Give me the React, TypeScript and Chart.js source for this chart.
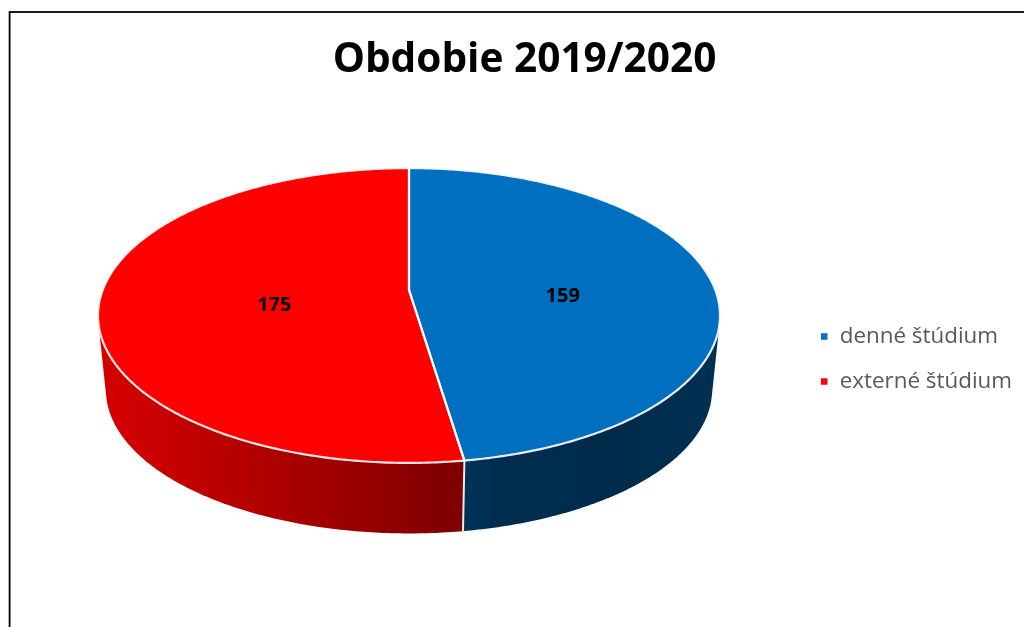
import React, { useEffect, useRef } from "react";
import { Chart, registerables } from "chart.js";

Chart.register(...registerables);

const titleText = "Obdobie 2019/2020";
const categories = ["denné štúdium", "externé štúdium"];
const values = [159, 175];
const sliceColors = ["#006FC0", "#FF0000"];
const wallStops = [
  ["#003a62", "#002c4e", "#002b4b", "#003053"],
  ["#d60000", "#ba0000", "#9c0000", "#7c0000"],
];

const TOP = { x: 409, y: 290, r: 306.3, s: 143, k: 0.173 };
const BOTTOM = { x: 409, y: 365, r: 298.5, s: 139.3, k: 0.173 };

type Geo = typeof TOP;
const project = (g: Geo, theta: number, f = 1) => {
  const u = Math.sin(theta) * f;
  const v = -Math.cos(theta) * f;
  const w = 1 - g.k * v;
  return { x: g.x + (g.r * u) / w, y: g.y + (g.s * v) / w };
};

const arcPoints = (g: Geo, a: number, b: number) => {
  const n = Math.max(8, Math.ceil(Math.abs(b - a) * 90));
  const pts = [];
  for (let i = 0; i <= n; i++) pts.push(project(g, a + ((b - a) * i) / n));
  return pts;
};

const hull = (input: { x: number; y: number }[]) => {
  const p = [...input].sort((a, b) => a.x - b.x || a.y - b.y);
  const cross = (o: any, a: any, b: any) =>
    (a.x - o.x) * (b.y - o.y) - (a.y - o.y) * (b.x - o.x);
  const lower: any[] = [];
  for (const q of p) {
    while (lower.length > 1 && cross(lower[lower.length - 2], lower[lower.length - 1], q) <= 0) lower.pop();
    lower.push(q);
  }
  const upper: any[] = [];
  for (const q of [...p].reverse()) {
    while (upper.length > 1 && cross(upper[upper.length - 2], upper[upper.length - 1], q) <= 0) upper.pop();
    upper.push(q);
  }
  return lower.slice(0, -1).concat(upper.slice(0, -1));
};

const tracePoly = (ctx: CanvasRenderingContext2D, pts: { x: number; y: number }[]) => {
  pts.forEach((p, i) => (i ? ctx.lineTo(p.x, p.y) : ctx.moveTo(p.x, p.y)));
};

const tracePoly2 = (ctx: CanvasRenderingContext2D, pts: { x: number; y: number }[]) => {
  pts.forEach((p) => ctx.lineTo(p.x, p.y));
};

const labelShift = [
  { dx: 2, dy: 12 },
  { dx: 19, dy: 10 },
];

const pie3d = {
  id: "pie3d",
  beforeDraw(chart: any) {
    const { ctx } = chart;
    ctx.save();
    ctx.strokeStyle = "#000000";
    ctx.lineWidth = 1.8;
    ctx.strokeRect(9.6, 12, 1100, 800);
    ctx.restore();
  },
  beforeDatasetsDraw(chart: any) {
    const { ctx } = chart;
    const arcs = chart.getDatasetMeta(0).data;
    const angles = arcs.map((arc: any) => ({
      a: arc.startAngle + Math.PI / 2,
      b: arc.endAngle + Math.PI / 2,
    }));
    ctx.save();
    angles.forEach((_: any, i: number) => {
      const { a, b } = angles[i];
      const top = arcPoints(TOP, a, b);
      const low = arcPoints(BOTTOM, a, b);
      const poly = hull(top.concat(low));
      const xs = top.concat(low).map((p) => p.x);
      const g = ctx.createLinearGradient(Math.min(...xs), 0, Math.max(...xs), 0);
      wallStops[i].forEach((c, j) => g.addColorStop(j / (wallStops[i].length - 1), c));
      ctx.beginPath();
      tracePoly(ctx, poly);
      ctx.closePath();
      ctx.fillStyle = g;
      ctx.fill();
    });
    // seams on the wall
    ctx.strokeStyle = "rgba(255,255,255,0.9)";
    ctx.lineWidth = 2;
    angles.forEach(({ b }: any) => {
      const p = project(TOP, b);
      const q = project(BOTTOM, b);
      if (p.y > 400) {
        ctx.beginPath();
        ctx.moveTo(p.x, p.y);
        ctx.lineTo(q.x, q.y);
        ctx.stroke();
      }
    });
    // top faces
    angles.forEach(({ a, b }: any, i: number) => {
      ctx.beginPath();
      ctx.moveTo(TOP.x, TOP.y);
      tracePoly2(ctx, arcPoints(TOP, a, b));
      ctx.closePath();
      ctx.fillStyle = sliceColors[i];
      ctx.fill();
    });
    angles.forEach(({ a, b }: any) => {
      ctx.beginPath();
      ctx.moveTo(TOP.x, TOP.y);
      tracePoly2(ctx, arcPoints(TOP, a, b));
      ctx.closePath();
      ctx.strokeStyle = "rgba(255,255,255,0.9)";
      ctx.lineWidth = 2.2;
      ctx.lineJoin = "round";
      ctx.stroke();
    });
    // value labels
    ctx.fillStyle = "#000000";
    ctx.font = "bold 20px 'Open Sans'";
    ctx.textAlign = "center";
    ctx.textBaseline = "middle";
    angles.forEach(({ a, b }: any, i: number) => {
      const p = project(TOP, (a + b) / 2, 0.5);
      ctx.fillText(String(values[i]), p.x + labelShift[i].dx, p.y + labelShift[i].dy);
    });
    ctx.restore();
    return false;
  },
};

export default function App() {
  const ref = useRef<HTMLCanvasElement>(null);
  useEffect(() => {
    document.body.style.margin = "0";
    document.body.style.background = "#ffffff";
    const chart = new Chart(ref.current!, {
      type: "pie",
      data: {
        labels: categories,
        datasets: [{ data: values, backgroundColor: sliceColors, borderColor: "#ffffff" }],
      },
      plugins: [pie3d],
      options: {
        responsive: false,
        animation: false,
        layout: { padding: { left: 27, top: 36, bottom: -55, right: 2 } },
        plugins: {
          tooltip: { enabled: false },
          title: {
            display: true,
            text: titleText,
            color: "#000000",
            font: { family: "'Open Sans'", size: 40.6, weight: "bold" },
            padding: { top: 0, bottom: 10 },
          },
          legend: {
            position: "right",
            labels: {
              boxWidth: 8.5,
              boxHeight: 8.5,
              padding: 22.5,
              color: "#595959",
              font: { family: "'Open Sans'", size: 22.4 },
            },
          },
        },
      },
    } as any);
    return () => chart.destroy();
  }, []);
  return <canvas ref={ref} width={1024} height={627} style={{ display: "block" }} />;
}
